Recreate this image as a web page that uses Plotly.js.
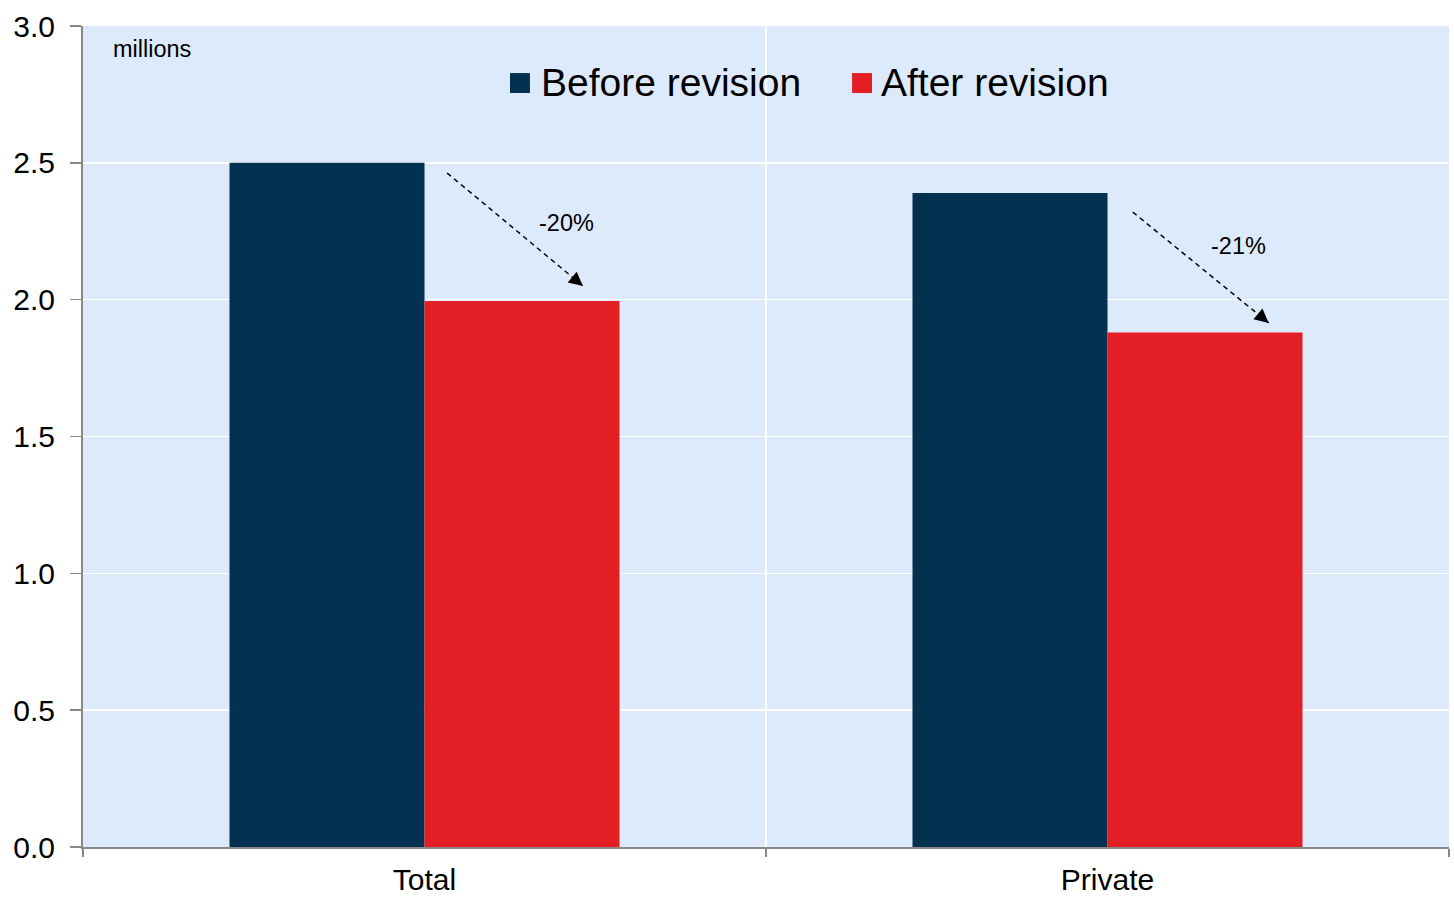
<!DOCTYPE html>
<html>
<head>
<meta charset="utf-8">
<script src="https://cdn.plot.ly/plotly-3.0.1.min.js"></script>
<style>html,body{margin:0;padding:0;background:#fff;}#chart{width:1454px;height:897px;}</style>
</head>
<body>
<div id="chart"></div>
<script>
const categories = ["Total", "Private"];
const seriesNames = ["Before revision", "After revision"];
const beforeRevision = [2.5, 2.39];
const afterRevision = [1.995, 1.88];
const changeLabels = ["-20%", "-21%"];
const yTickValues = [0, 0.5, 1.0, 1.5, 2.0, 2.5, 3.0];
const unitLabel = "millions";

const navy = "#02324F";
const red = "#E41E25";
const FONT = "Liberation Sans, Arial, sans-serif";

const traces = [
  {type: "bar", name: seriesNames[0], x: categories, y: beforeRevision,
   marker: {color: navy, line: {width: 0}}, showlegend: false, hoverinfo: "x+y+name"},
  {type: "bar", name: seriesNames[1], x: categories, y: afterRevision,
   marker: {color: red, line: {width: 0}}, showlegend: false, hoverinfo: "x+y+name"}
];

// arrow positions (relative to category index), tail -> tip
const arrows = [
  {x0: 0.033, y0: 2.463, x1: 0.232, y1: 2.050, lx: 0.208, ly: 2.28},
  {x0: 1.037, y0: 2.320, x1: 1.236, y1: 1.915, lx: 1.1915, ly: 2.196}
];

const shapes = [];
const annotations = [];
arrows.forEach((a, i) => {
  shapes.push({type: "line", xref: "x", yref: "y", x0: a.x0, y0: a.y0, x1: a.x1, y1: a.y1,
    line: {color: "#000", width: 1.5, dash: "5px,4px"}});
  annotations.push({xref: "x", yref: "y", x: a.x1, y: a.y1, ax: -6, ay: -5,
    axref: "pixel", ayref: "pixel", text: "", showarrow: true, arrowhead: 2,
    arrowsize: 2.0, arrowwidth: 1.4, arrowcolor: "#000", standoff: 0});
  annotations.push({xref: "x", yref: "y", x: a.lx, y: a.ly, text: changeLabels[i],
    showarrow: false, font: {family: FONT, size: 23.5, color: "#000"}});
});

annotations.push({xref: "paper", yref: "paper", x: 0.0205, y: 0.972, xanchor: "left", yanchor: "middle",
  text: unitLabel, showarrow: false, font: {family: FONT, size: 23.5, color: "#000"}});

// manual legend
const legendItems = [
  {sx0: 0.3126, sx1: 0.3272, tx: 0.3338, color: navy, label: seriesNames[0]},
  {sx0: 0.5630, sx1: 0.5776, tx: 0.5828, color: red, label: seriesNames[1]}
];
legendItems.forEach(l => {
  shapes.push({type: "rect", xref: "paper", yref: "paper", x0: l.sx0, x1: l.sx1, y0: 0.9184, y1: 0.9427,
    fillcolor: l.color, line: {width: 0}});
  annotations.push({xref: "paper", yref: "paper", x: l.tx, y: 0.9306, xanchor: "left", yanchor: "middle",
    text: l.label, showarrow: false, font: {family: FONT, size: 39, color: "#000"}});
});

const layout = {
  width: 1454, height: 897,
  margin: {l: 83, r: 5, t: 26, b: 50, pad: 0},
  paper_bgcolor: "#ffffff",
  plot_bgcolor: "#DDEAFB",
  barmode: "group",
  bargap: 0.429,
  bargroupgap: 0,
  showlegend: false,
  font: {family: FONT, color: "#000"},
  xaxis: {
    type: "category", range: [-0.5, 1.5],
    tickson: "boundaries", ticks: "outside", ticklen: 8, tickwidth: 1.5, tickcolor: "#888",
    showline: true, linecolor: "#888", linewidth: 2,
    showgrid: true, gridcolor: "#ffffff", gridwidth: 1.5,
    ticklabelstandoff: 5,
    tickfont: {family: FONT, size: 30, color: "#000"},
    fixedrange: true
  },
  yaxis: {
    range: [0, 3], tickvals: yTickValues, tickformat: ".1f",
    ticks: "outside", ticklen: 11, tickwidth: 1.5, tickcolor: "#888",
    showline: true, linecolor: "#888", linewidth: 2,
    showgrid: true, gridcolor: "#ffffff", gridwidth: 1.5,
    zeroline: false,
    ticklabelstandoff: 9,
    tickfont: {family: FONT, size: 30, color: "#000"},
    fixedrange: true
  },
  shapes: shapes,
  annotations: annotations
};

Plotly.newPlot("chart", traces, layout, {displayModeBar: false, staticPlot: true});
</script>
</body>
</html>
